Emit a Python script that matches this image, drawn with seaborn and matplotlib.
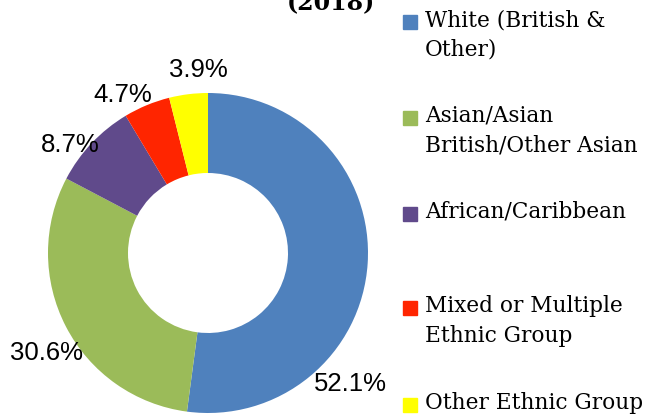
import numpy as np
import pandas as pd
import seaborn as sns
import matplotlib.pyplot as plt
import matplotlib.patches as mpatches

groups = ['White (British &\nOther)', 'Asian/Asian\nBritish/Other Asian', 'African/Caribbean',
          'Mixed or Multiple\nEthnic Group', 'Other Ethnic Group']
shares = [52.1, 30.6, 8.7, 4.7, 3.9]
colors = ['#4F81BD', '#9BBB59', '#604A8B', '#FF2500', '#FFFF00']

# where excel put the % labels (data units, radius = 1)
label_pos = [(0.89, -0.82), (-1.01, -0.625), (-0.86, 0.675), (-0.53, 0.99), (-0.06, 1.145)]

sns.set_theme(style='white')

fig = plt.figure(figsize=(6.5, 4.18), dpi=100)
W, H = 650, 418
ax = fig.add_axes([48 / W, 5 / H, 320 / W, 320 / H])

wedges, _ = ax.pie(shares, colors=colors, startangle=90, counterclock=False,
                   wedgeprops=dict(width=0.5, linewidth=0))
ax.set_xlim(-1, 1)
ax.set_ylim(-1, 1)
ax.set_aspect('equal')
ax.axis('off')

for val, (x, y) in zip(shares, label_pos):
    ax.text(x, y, f'{val}%', ha='center', va='center', fontsize=18.5,
            family='Liberation Sans', color='black')

# title is cut off at the top in the original
fig.text(331 / W, 1 - 3 / H, '(2018)', ha='center', va='center', fontsize=17,
         family='DejaVu Serif', weight='bold', color='black')

# legend, spread out like excel does it
line_y = [22, 118, 214, 308, 405]
for lab, c, y in zip(groups, colors, line_y):
    fig.patches.append(mpatches.Rectangle((403 / W, 1 - (y + 7) / H), 14 / W, 14 / H,
                                          transform=fig.transFigure, color=c))
    fig.text(425 / W, 1 - (y - 13) / H, lab, ha='left', va='top', fontsize=15.6,
             family='DejaVu Serif', linespacing=1.45, color='black')

fig.savefig('out.png', dpi=100)
